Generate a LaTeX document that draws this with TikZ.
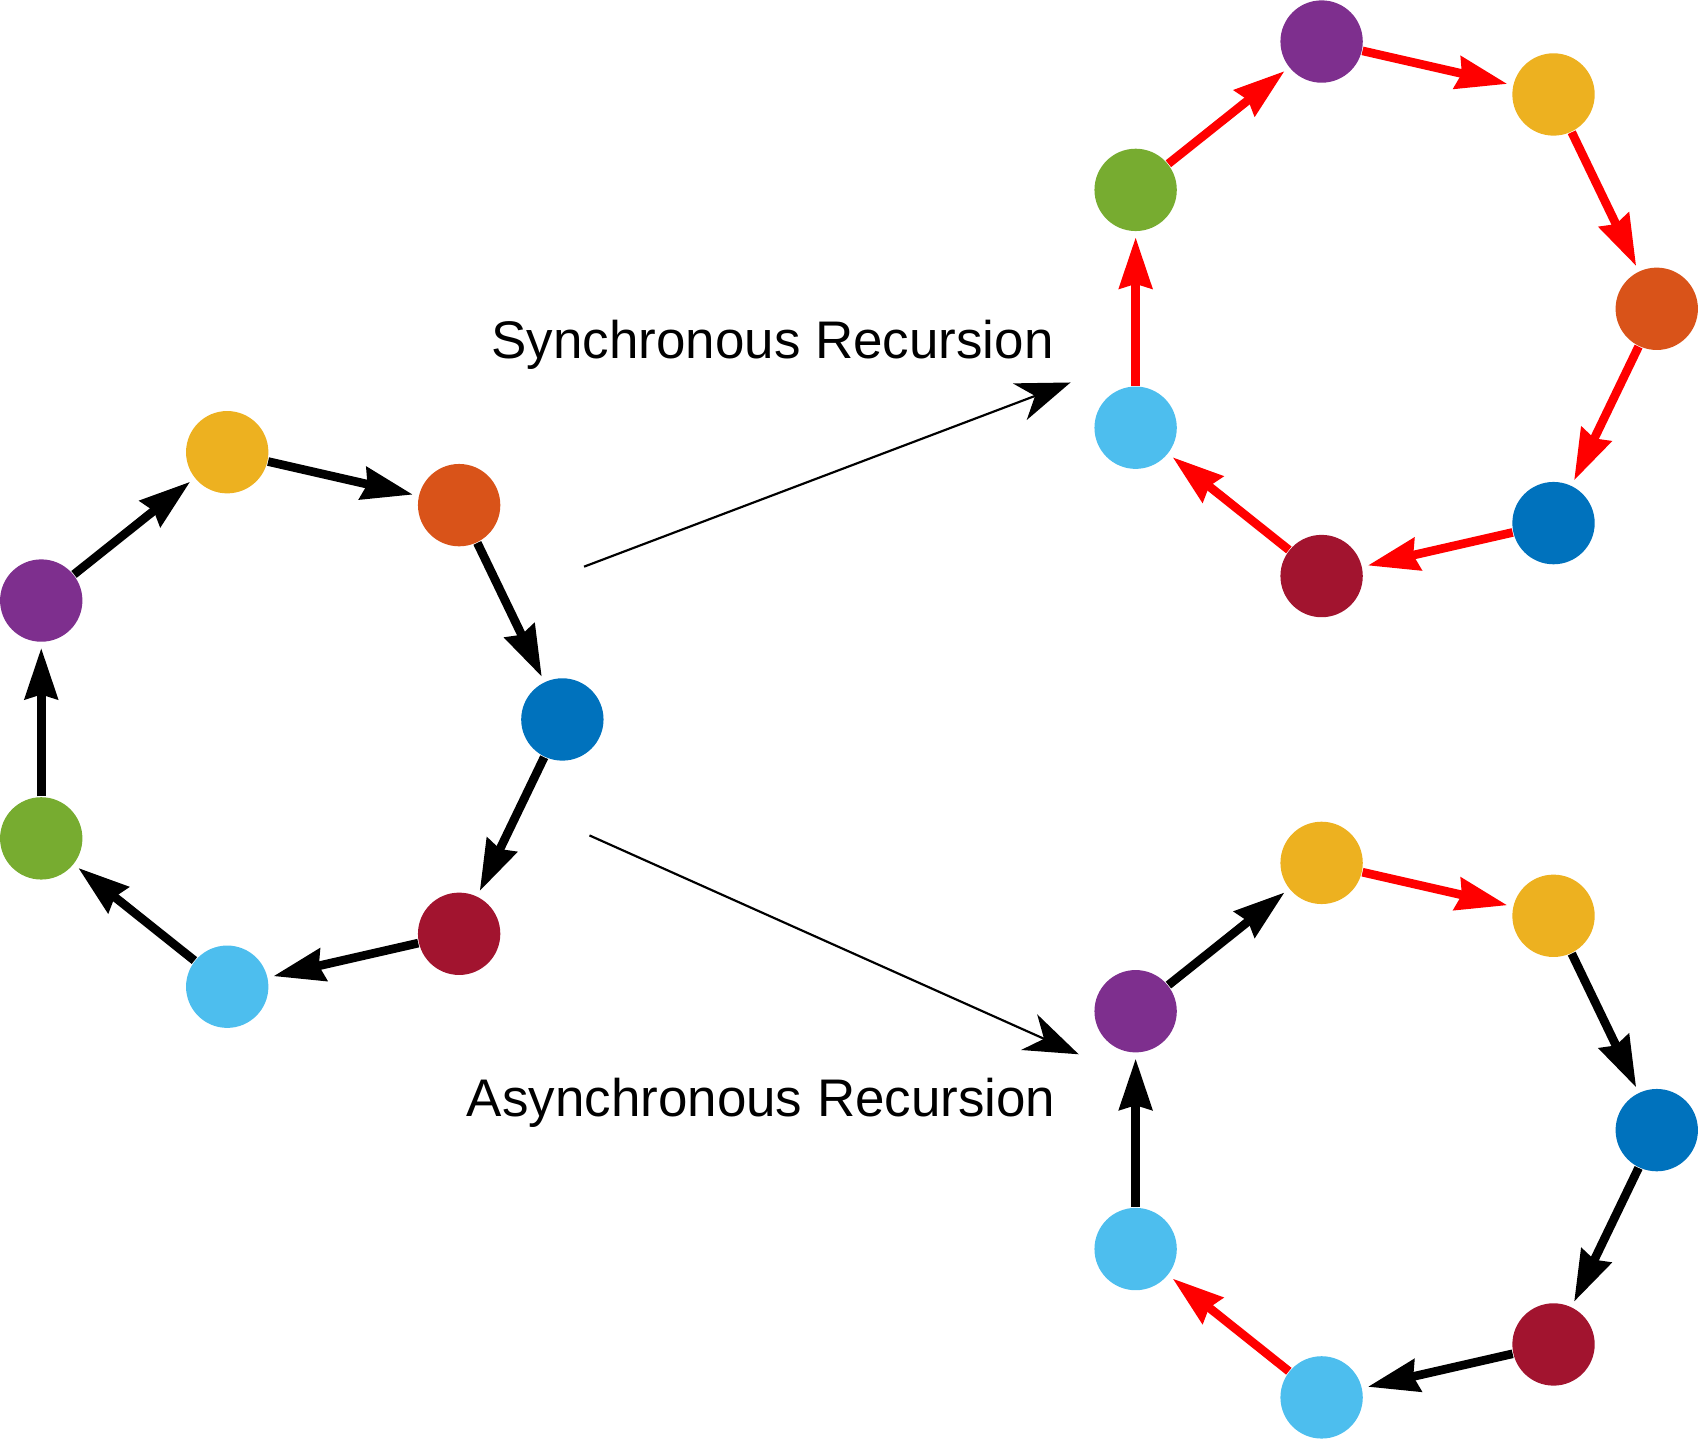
\documentclass[tikz,border=0pt]{standalone}
\usepackage{fontspec}
\setmainfont{Liberation Sans}
\usetikzlibrary{arrows.meta,calc}
\definecolor{mblue}{HTML}{0072BD}
\definecolor{morange}{HTML}{D95319}
\definecolor{myellow}{HTML}{EDB120}
\definecolor{mpurple}{HTML}{7E2F8E}
\definecolor{mgreen}{HTML}{77AC30}
\definecolor{mcyan}{HTML}{4DBEEE}
\definecolor{mred}{HTML}{A2142F}
\begin{document}
\begin{tikzpicture}[every node/.style={circle, minimum size=0.76cm, inner sep=0pt},
  link/.style={line width=0.08cm, shorten >=0.05cm, -{Stealth[length=0.47cm, width=0.30cm, inset=0.04cm]}},
  hot/.style={link, red},
  jump/.style={line width=0.02cm, -{Stealth[length=0.5cm, width=0.36cm, inset=0.15cm]}},
  caption/.style={rectangle, anchor=base, font=\fontsize{13.9}{16}\selectfont}]
  \useasboundingbox (0,0) rectangle (15.68,13.28);
  % starting ring
  \node[fill=mblue]   (lB) at ($(2.66,6.64)+(0:2.53)$) {};
  \node[fill=morange] (lO) at ($(2.66,6.64)+(51.43:2.53)$) {};
  \node[fill=myellow] (lY) at ($(2.66,6.64)+(102.86:2.53)$) {};
  \node[fill=mpurple] (lP) at ($(2.66,6.64)+(154.29:2.53)$) {};
  \node[fill=mgreen]  (lG) at ($(2.66,6.64)+(205.71:2.53)$) {};
  \node[fill=mcyan]   (lC) at ($(2.66,6.64)+(257.14:2.53)$) {};
  \node[fill=mred]    (lR) at ($(2.66,6.64)+(308.57:2.53)$) {};
  \draw[link] (lY) -- (lO); \draw[link] (lO) -- (lB); \draw[link] (lB) -- (lR);
  \draw[link] (lR) -- (lC); \draw[link] (lC) -- (lG); \draw[link] (lG) -- (lP);
  \draw[link] (lP) -- (lY);
  % synchronous ring
  \node[fill=morange] (sO) at ($(12.76,10.43)+(0:2.53)$) {};
  \node[fill=myellow] (sY) at ($(12.76,10.43)+(51.43:2.53)$) {};
  \node[fill=mpurple] (sP) at ($(12.76,10.43)+(102.86:2.53)$) {};
  \node[fill=mgreen]  (sG) at ($(12.76,10.43)+(154.29:2.53)$) {};
  \node[fill=mcyan]   (sC) at ($(12.76,10.43)+(205.71:2.53)$) {};
  \node[fill=mred]    (sR) at ($(12.76,10.43)+(257.14:2.53)$) {};
  \node[fill=mblue]   (sB) at ($(12.76,10.43)+(308.57:2.53)$) {};
  \draw[hot] (sG) -- (sP); \draw[hot] (sP) -- (sY); \draw[hot] (sY) -- (sO);
  \draw[hot] (sO) -- (sB); \draw[hot] (sB) -- (sR); \draw[hot] (sR) -- (sC);
  \draw[hot] (sC) -- (sG);
  % asynchronous ring
  \node[fill=mblue]   (aB)  at ($(12.76,2.85)+(0:2.53)$) {};
  \node[fill=myellow] (aY2) at ($(12.76,2.85)+(51.43:2.53)$) {};
  \node[fill=myellow] (aY)  at ($(12.76,2.85)+(102.86:2.53)$) {};
  \node[fill=mpurple] (aP)  at ($(12.76,2.85)+(154.29:2.53)$) {};
  \node[fill=mcyan]   (aC2) at ($(12.76,2.85)+(205.71:2.53)$) {};
  \node[fill=mcyan]   (aC)  at ($(12.76,2.85)+(257.14:2.53)$) {};
  \node[fill=mred]    (aR)  at ($(12.76,2.85)+(308.57:2.53)$) {};
  \draw[link] (aP) -- (aY); \draw[hot] (aY) -- (aY2); \draw[link] (aY2) -- (aB);
  \draw[link] (aB) -- (aR); \draw[link] (aR) -- (aC); \draw[hot] (aC) -- (aC2);
  \draw[link] (aC2) -- (aP);
  % transitions
  \coordinate (s0) at (5.39,8.05);
  \coordinate (s1) at (9.88,9.75);
  \coordinate (a0) at (5.44,5.57);
  \coordinate (a1) at (9.955,3.55);
  \draw[jump] (s0) -- (s1);
  \draw[jump] (a0) -- (a1);
  \node[caption] (sync) at (7.13,9.967) {Synchronous Recursion};
  \node[caption] (async) at (7.025,2.98) {Asynchronous Recursion};
\end{tikzpicture}
\end{document}
